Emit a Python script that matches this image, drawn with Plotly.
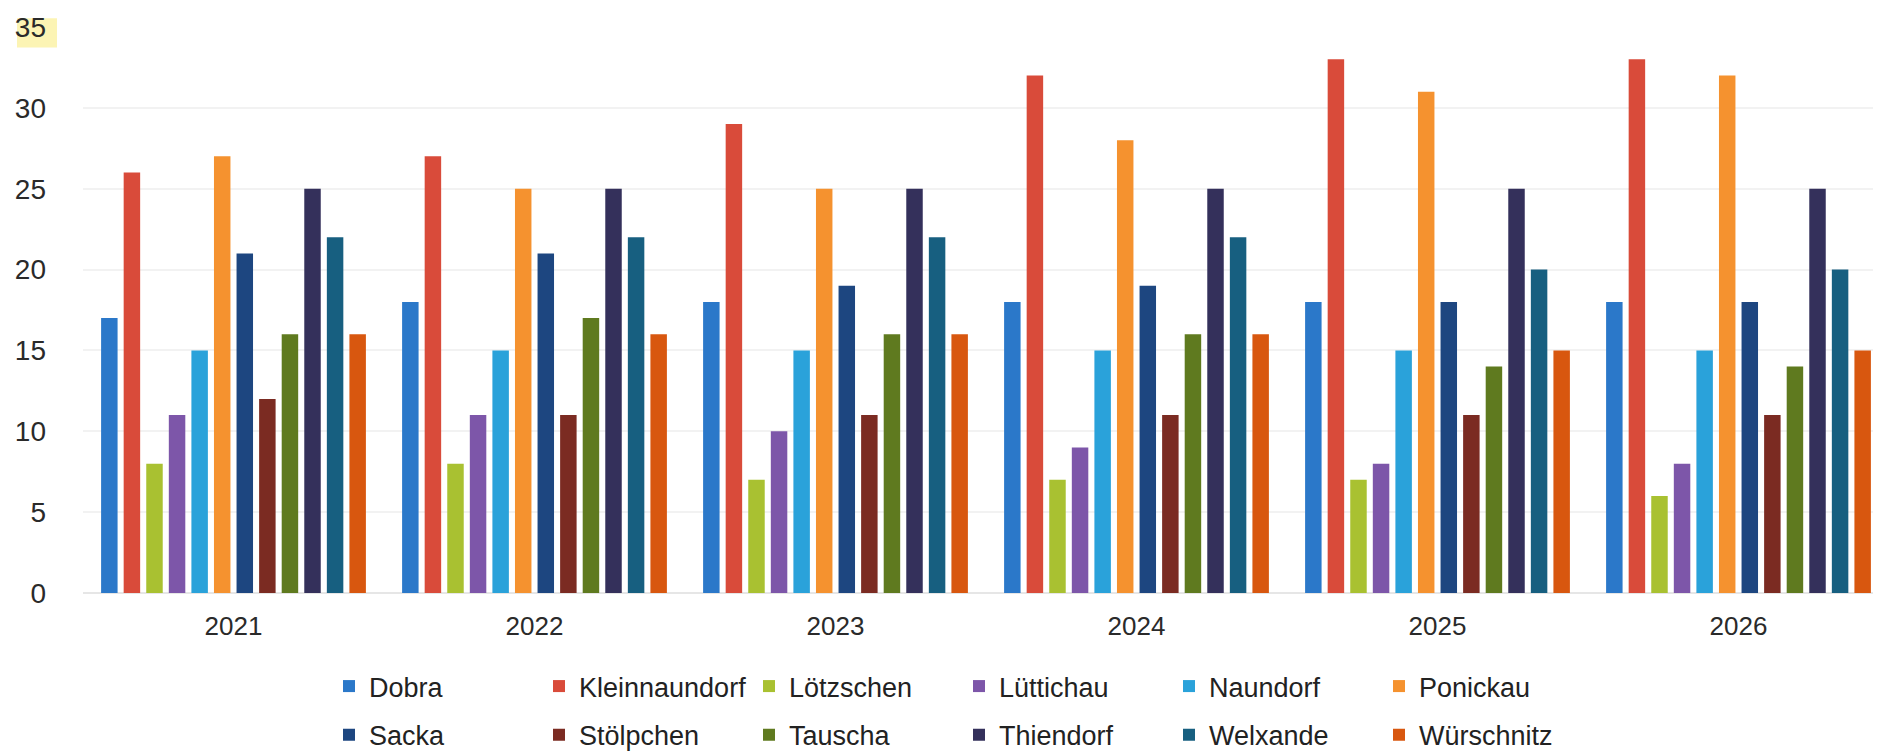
import plotly.graph_objects as go

years = ["2021", "2022", "2023", "2024", "2025", "2026"]

dobra = [17, 18, 18, 18, 18, 18]
kleinnaundorf = [26, 27, 29, 32, 33, 33]
loetzschen = [8, 8, 7, 7, 7, 6]
luettichau = [11, 11, 10, 9, 8, 8]
naundorf = [15, 15, 15, 15, 15, 15]
ponickau = [27, 25, 25, 28, 31, 32]
sacka = [21, 21, 19, 19, 18, 18]
stoelpchen = [12, 11, 11, 11, 11, 11]
tauscha = [16, 17, 16, 16, 14, 14]
thiendorf = [25, 25, 25, 25, 25, 25]
welxande = [22, 22, 22, 22, 20, 20]
wuerschnitz = [16, 16, 16, 16, 15, 15]

series = [
    ("Dobra", dobra, "#2b78c9", "legend"),
    ("Kleinnaundorf", kleinnaundorf, "#d94b3a", "legend"),
    ("Lötzschen", loetzschen, "#a9c131", "legend"),
    ("Lüttichau", luettichau, "#7d56a9", "legend"),
    ("Naundorf", naundorf, "#2aa2da", "legend"),
    ("Ponickau", ponickau, "#f5922f", "legend"),
    ("Sacka", sacka, "#1d4680", "legend2"),
    ("Stölpchen", stoelpchen, "#7b2b22", "legend2"),
    ("Tauscha", tauscha, "#5f7a1f", "legend2"),
    ("Thiendorf", thiendorf, "#34305b", "legend2"),
    ("Welxande", welxande, "#175f80", "legend2"),
    ("Würschnitz", wuerschnitz, "#d8570f", "legend2"),
]

fig = go.Figure()
for name, vals, color, lg in series:
    fig.add_trace(go.Bar(
        x=years, y=vals, name=name, marker=dict(color=color, line=dict(width=0)),
        legend=lg,
    ))

W, H = 1881, 752
ML, MR, MT, MB = 75, 0, 19, 152
plot_h = H - MT - MB

def py(ypix):
    return (H - MB - ypix) / plot_h

def px(xpix):
    return (xpix - ML) / (W - ML - MR)

font_family = "Liberation Sans, Arial, sans-serif"
legend_common = dict(
    orientation="h",
    xanchor="left",
    yanchor="middle",
    x=px(321),
    font=dict(family=font_family, size=27, color="#222222"),
    entrywidth=165,
    entrywidthmode="pixels",
    bgcolor="rgba(0,0,0,0)",
    traceorder="normal",
)

fig.update_layout(
    width=W, height=H,
    margin=dict(l=ML, r=MR, t=MT, b=MB),
    paper_bgcolor="white",
    plot_bgcolor="white",
    barmode="group",
    bargap=0.10,
    bargroupgap=0.27,
    font=dict(family=font_family, size=27, color="#2a2a2a"),
    showlegend=True,
    legend=dict(legend_common, y=py(696)),
    legend2=dict(legend_common, y=py(746)),
    xaxis=dict(
        showgrid=False, showline=False, ticks="",
        tickfont=dict(size=26, color="#2a2a2a"),
        ticklabelstandoff=15,
    ),
    yaxis=dict(
        range=[0, 35], tickvals=[0, 5, 10, 15, 20, 25, 30, 35],
        showgrid=True, gridcolor="#f2f2f2", gridwidth=1.5,
        zeroline=True, zerolinecolor="#e6e6e6", zerolinewidth=2,
        showline=False, ticks="",
        tickfont=dict(size=28, color="#2a2a2a"),
        ticklabelstandoff=36,
    ),
    shapes=[dict(
        type="rect", xref="paper", yref="paper",
        x0=px(9), x1=px(49), y0=py(40), y1=py(10),
        fillcolor="#fcf4b4", line=dict(width=0), layer="below",
    )],
)

fig.write_html("out.html")
